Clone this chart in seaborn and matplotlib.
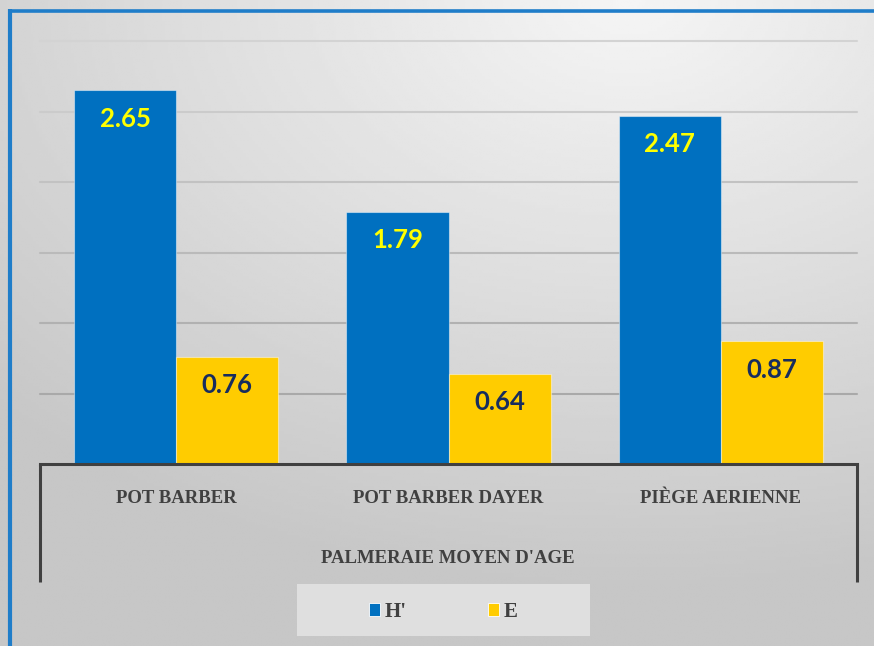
import numpy as np
import pandas as pd
import seaborn as sns
import matplotlib.pyplot as plt
from matplotlib.patches import Rectangle, Patch
from matplotlib.lines import Line2D
from matplotlib.colors import to_rgb

categories = ["POT BARBER", "POT BARBER DAYER", "PIÈGE AERIENNE"]
h_values = [2.65, 1.79, 2.47]
e_values = [0.76, 0.64, 0.87]
series_names = ["H'", "E"]
grid_ticks = [0.5, 1.0, 1.5, 2.0, 2.5, 3.0]
group_label = "PALMERAIE MOYEN D'AGE"

df = pd.DataFrame({
    'Piege': categories * 2,
    'Indice': [series_names[0]] * len(h_values) + [series_names[1]] * len(e_values),
    'Valeur': h_values + e_values,
})

blue = '#0070C0'
yellow = '#FFCC00'
dark = '#404040'
W, H = 874, 646

sns.set_style("white")
plt.rcParams['font.family'] = ['Liberation Serif', 'DejaVu Serif']
plt.rcParams['font.weight'] = 'bold'

fig = plt.figure(figsize=(8.74, 6.46), dpi=100)

# grey gradient background, lightest near the top
bg = fig.add_axes([0, 0, 1, 1], zorder=-10)
yy, xx = np.mgrid[0:1:200j, 0:1:300j]
d = np.sqrt((xx - 0.72) ** 2 + (yy * 1.1) ** 2)
shade = 0.96 - 0.18 * np.clip(d, 0, 1)
bg.imshow(shade, cmap='gray', vmin=0, vmax=1, extent=[0, 1, 0, 1], aspect='auto', origin='upper')
bg.axis('off')

# blue frame on left and top
fig.add_artist(Line2D([10 / W, 10 / W], [0, 1 - 9 / H], transform=fig.transFigure,
                      color='#1F7DC9', lw=3, solid_capstyle='butt'))
fig.add_artist(Line2D([8 / W, 1], [1 - 11 / H, 1 - 11 / H], transform=fig.transFigure,
                      color='#1F7DC9', lw=2.6, solid_capstyle='butt'))

ax = fig.add_axes([40 / W, (H - 464) / H, 817 / W, 423 / H])
ax.patch.set_alpha(0)

sns.barplot(data=df, x='Piege', y='Valeur', hue='Indice', palette=[blue, yellow],
            width=0.75, saturation=1, legend=False, ax=ax,
            edgecolor=(1, 1, 1, 0.45), linewidth=0.8)

ax.set_xlim(-0.5, 2.5)
ax.set_ylim(0, 3)

# gridlines get a little darker towards the bottom
c_low, c_high = np.array(to_rgb('#A9A9A9')), np.array(to_rgb('#D3D3D3'))
for i, y in enumerate(grid_ticks):
    t = i / (len(grid_ticks) - 1)
    ax.axhline(y, color=c_low + (c_high - c_low) * t, lw=1.5, zorder=0, clip_on=False)

for cont, vals, col in zip(ax.containers, [h_values, e_values], ['#FFFF00', '#172C5E']):
    for bar, v in zip(cont, vals):
        ax.annotate(f'{v:.2f}', (bar.get_x() + bar.get_width() / 2, bar.get_height()),
                    xytext=(0, -20.5), textcoords='offset points', ha='center', va='center',
                    family='Lato', weight='bold', size=18.5, color=col)

for s in ['top', 'right', 'left']:
    ax.spines[s].set_visible(False)
ax.spines['bottom'].set_color(dark)
ax.spines['bottom'].set_linewidth(2.2)
for x in [0, 1]:
    ax.plot([x, x], [0, -118 / 423], transform=ax.transAxes, clip_on=False,
            color=dark, lw=2.2, solid_capstyle='butt')

ax.set_yticks([])
ax.set_xlabel('')
ax.set_ylabel('')
ax.tick_params(axis='x', length=0, pad=19, labelsize=13.5, labelcolor=dark)

fig.text(448 / W, 1 - 558.5 / H, group_label, ha='center', va='center', size=13.5, color=dark, weight='bold')

# legend box
fig.add_artist(Rectangle((297 / W, 1 - 636 / H), 293 / W, 52 / H, transform=fig.transFigure,
                         facecolor='#DFDFDF', edgecolor='none', zorder=-5))
handles = [Patch(facecolor=blue, edgecolor='white', lw=0.6), Patch(facecolor=yellow, edgecolor='white', lw=0.6)]
fig.legend(handles, series_names, loc='center', bbox_to_anchor=(443 / W, 1 - 612 / H),
           ncol=2, frameon=False, handlelength=0.55, handleheight=0.55, handletextpad=0.2,
           columnspacing=3.9, prop=dict(family='Liberation Serif', weight='bold', size=15),
           labelcolor=dark)

fig.savefig('out.png', dpi=100)
